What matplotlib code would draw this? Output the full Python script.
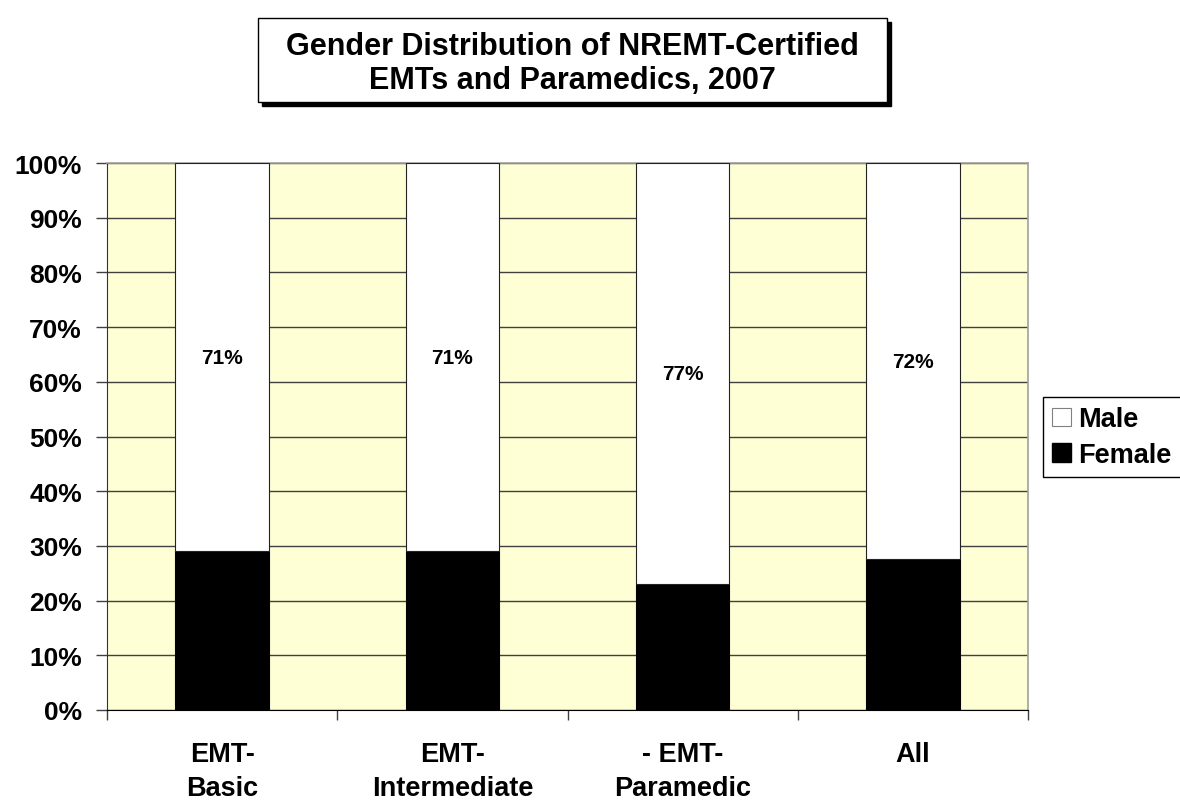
import matplotlib
matplotlib.use("Agg")
import matplotlib.pyplot as plt
from matplotlib.patches import Rectangle, Patch
import numpy as np

plt.rcParams['font.family'] = ['Liberation Sans', 'DejaVu Sans']

categories = ["EMT-\nBasic", "EMT-\nIntermediate", "- EMT-\nParamedic", "All"]
female = [29.0, 29.0, 23.0, 27.6]
male = [71.0, 71.0, 77.0, 72.4]
male_labels = ["71%", "71%", "77%", "72%"]
yticks = [0, 10, 20, 30, 40, 50, 60, 70, 80, 90, 100]
ytick_labels = [f"{v}%" for v in yticks]
title_lines = ["Gender Distribution of NREMT-Certified", "EMTs and Paramedics, 2007"]

W, H = 1180, 803
fig = plt.figure(figsize=(W / 100, H / 100), dpi=100)
fig.patch.set_facecolor("white")

ax = fig.add_axes([107 / W, 92 / H, (1028 - 107) / W, (711 - 164) / H])
ax.set_facecolor("#FFFFD6")

x = np.arange(len(categories))
bw = 0.405
ax.bar(x, female, bw, color="black", edgecolor="black", linewidth=0.8, zorder=3, label="Female")
ax.bar(x, male, bw, bottom=female, color="white", edgecolor="#222222", linewidth=0.8, zorder=3, label="Male")

for xi, f, m, lab in zip(x, female, male, male_labels):
    ax.text(xi, f + m / 2, lab, ha="center", va="center", fontsize=15, fontweight="bold", zorder=4)

ax.set_xlim(-0.5, len(categories) - 0.5)
ax.set_ylim(0, 100)
ax.set_yticks(yticks)
ax.set_yticklabels(ytick_labels, fontsize=19, fontweight="bold")
ax.yaxis.grid(True, color="#404040", linewidth=1.0, zorder=1)
ax.set_axisbelow(True)

ax.set_xticks(np.arange(-0.5, len(categories), 1.0))
ax.set_xticklabels([])
ax.set_xticks(x, minor=True)
ax.set_xticklabels(categories, minor=True, fontsize=19.5, fontweight="bold", va="top", ha="center", linespacing=1.4)
ax.tick_params(axis="x", which="minor", length=0, pad=22)
ax.tick_params(axis="x", which="major", length=7, width=1, color="#404040", direction="out")
ax.tick_params(axis="y", length=8, width=1, color="#404040", pad=10)

for side in ["top", "right"]:
    ax.spines[side].set_color("#A0A0A0")
    ax.spines[side].set_linewidth(1.2)
ax.spines["left"].set_color("#333333")
ax.spines["bottom"].set_color("black")

# Legend
handles = [Patch(facecolor="white", edgecolor="#808080", linewidth=0.8, label="Male"),
           Patch(facecolor="black", edgecolor="black", label="Female")]
leg = fig.legend(handles=handles, loc="upper left", bbox_to_anchor=(1043 / W, 1 - 398 / H),
                 prop={"weight": "bold", "size": 19.5}, frameon=True, fancybox=False,
                 edgecolor="black", framealpha=1, handlelength=0.7, handleheight=0.7,
                 handletextpad=0.25, borderpad=0.35, labelspacing=0.35, borderaxespad=0)
leg.get_frame().set_linewidth(1.0)

# Title box with shadow
bx0, bx1, by0, by1 = 258, 887, 19, 103
sh = 4
fig.patches.append(Rectangle(((bx0 + sh) / W, 1 - (by1 + sh) / H), (bx1 - bx0) / W, (by1 - by0) / H,
                             transform=fig.transFigure, facecolor="black", edgecolor="black", zorder=1))
fig.patches.append(Rectangle((bx0 / W, 1 - by1 / H), (bx1 - bx0) / W, (by1 - by0) / H,
                             transform=fig.transFigure, facecolor="white", edgecolor="black",
                             linewidth=1.0, zorder=2))
cx = (bx0 + bx1) / 2 / W
fig.text(cx, 1 - 47 / H, title_lines[0], ha="center", va="center", fontsize=22, fontweight="bold", zorder=3)
fig.text(cx, 1 - 81 / H, title_lines[1], ha="center", va="center", fontsize=22, fontweight="bold", zorder=3)

fig.savefig("out.png", dpi=100, facecolor="white")
